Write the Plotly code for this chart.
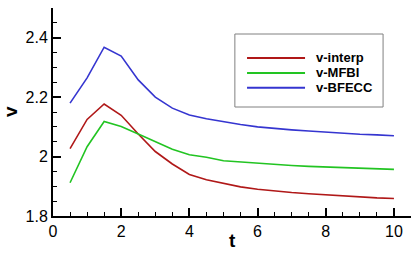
import plotly.graph_objects as go

t = [0.5, 1.0, 1.5, 2.0, 2.5, 3.0, 3.5, 4.0, 4.5, 5.0, 5.5, 6.0, 6.5, 7.0, 7.5, 8.0, 8.5, 9.0, 9.5, 10.0]
v_interp = [2.027, 2.125, 2.177, 2.139, 2.076, 2.017, 1.975, 1.940, 1.922, 1.909, 1.898, 1.890,
            1.884, 1.879, 1.875, 1.871, 1.868, 1.864, 1.861, 1.859]
v_mfbi = [1.912, 2.033, 2.118, 2.101, 2.076, 2.050, 2.025, 2.006, 1.998, 1.986, 1.982, 1.976,
          1.973, 1.970, 1.967, 1.965, 1.963, 1.961, 1.959, 1.957]
v_bfecc = [2.180, 2.265, 2.368, 2.338, 2.258, 2.200, 2.163, 2.140, 2.127, 2.117, 2.108, 2.100,
           2.094, 2.090, 2.086, 2.082, 2.078, 2.075, 2.073, 2.070]
names = ["v-interp", "v-MFBI", "v-BFECC"]
colors = ["#B01818", "#22C422", "#3535D0"]

FONT = "Arial, Liberation Sans, sans-serif"
fig = go.Figure()
for name, ys, c in zip(names, [v_interp, v_mfbi, v_bfecc], colors):
    fig.add_trace(go.Scatter(x=t, y=ys, mode="lines", name=name, showlegend=False,
                             line=dict(color=c, width=1.6)))

axis_common = dict(showline=True, linecolor="black", linewidth=2, ticks="inside",
                   ticklen=8, tickwidth=2, tickcolor="black", showgrid=False, zeroline=False,
                   tickfont=dict(family=FONT, size=16, color="black"), mirror=False,
                   automargin=False)
fig.update_xaxes(range=[0, 10.5], dtick=2, tick0=0,
                 minor=dict(ticks="inside", ticklen=4, tickwidth=1, tickcolor="black", dtick=0.5, showgrid=False),
                 **axis_common)
fig.update_yaxes(range=[1.8, 2.5], dtick=0.2, tick0=1.8,
                 minor=dict(ticks="inside", ticklen=4, tickwidth=1, tickcolor="black", dtick=0.05, showgrid=False),
                 **axis_common)

# axis titles
fig.add_annotation(text="<b>t</b>", xref="paper", yref="paper", x=0.5, y=-0.12,
                   xanchor="center", yanchor="middle", showarrow=False,
                   font=dict(family=FONT, size=19, color="black"))
fig.add_annotation(text="<b>v</b>", xref="paper", yref="paper", x=-0.12, y=0.5,
                   xanchor="center", yanchor="middle", showarrow=False, textangle=-90,
                   font=dict(family=FONT, size=19, color="black"))

# legend box
fig.add_shape(type="rect", xref="paper", yref="paper",
              x0=0.508, x1=0.922, y0=0.524, y1=0.875,
              line=dict(color="#808080", width=1), fillcolor="white", layer="below")
for i, (name, c) in enumerate(zip(names, colors)):
    yy = 0.76 - i * 0.072
    fig.add_shape(type="line", xref="paper", yref="paper", x0=0.542, x1=0.704, y0=yy, y1=yy,
                  line=dict(color=c, width=2))
    fig.add_annotation(text="<b>" + name + "</b>", xref="paper", yref="paper", x=0.73, y=yy,
                       xanchor="left", yanchor="middle", showarrow=False,
                       font=dict(family=FONT, size=13, color="black"))

fig.update_layout(
    width=419, height=253,
    margin=dict(l=53, r=8, t=8, b=37),
    plot_bgcolor="white", paper_bgcolor="white",
    showlegend=False,
)
fig.write_html("out.html", config={"displayModeBar": False},
               post_script="document.body.style.margin='0';document.body.style.padding='0';")
